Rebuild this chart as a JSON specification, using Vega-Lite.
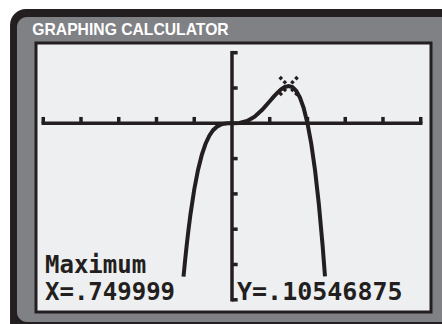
{
  "$schema": "https://vega.github.io/schema/vega-lite/v6.json",
  "width": 395,
  "height": 269,
  "autosize": {"type": "none"},
  "padding": {"left": 36, "top": 43, "right": 11, "bottom": 12},
  "background": "#ffffff",
  "config": {"view": {"stroke": null}},
  "datasets": {
    "curve": [
      {"x": -0.642, "y": -0.4345},
      {"x": -0.62, "y": -0.3861},
      {"x": -0.6, "y": -0.3456},
      {"x": -0.58, "y": -0.3083},
      {"x": -0.55, "y": -0.2579},
      {"x": -0.5, "y": -0.1875},
      {"x": -0.45, "y": -0.1321},
      {"x": -0.4, "y": -0.0896},
      {"x": -0.35, "y": -0.0579},
      {"x": -0.3, "y": -0.0351},
      {"x": -0.25, "y": -0.0195},
      {"x": -0.2, "y": -0.0096},
      {"x": -0.15, "y": -0.0039},
      {"x": -0.1, "y": -0.0011},
      {"x": -0.05, "y": -0.0001},
      {"x": 0, "y": 0},
      {"x": 0.1, "y": 0.0009},
      {"x": 0.2, "y": 0.0064},
      {"x": 0.3, "y": 0.0189},
      {"x": 0.4, "y": 0.0384},
      {"x": 0.5, "y": 0.0625},
      {"x": 0.55, "y": 0.0749},
      {"x": 0.6, "y": 0.0864},
      {"x": 0.65, "y": 0.0961},
      {"x": 0.7, "y": 0.1029},
      {"x": 0.75, "y": 0.1055},
      {"x": 0.8, "y": 0.1024},
      {"x": 0.85, "y": 0.0921},
      {"x": 0.9, "y": 0.0729},
      {"x": 0.95, "y": 0.0429},
      {"x": 1.0, "y": 0},
      {"x": 1.05, "y": -0.0579},
      {"x": 1.1, "y": -0.1331},
      {"x": 1.15, "y": -0.2281},
      {"x": 1.2, "y": -0.3456},
      {"x": 1.232, "y": -0.4338}
    ],
    "xticks": [
      {"x": -2.5}, {"x": -2}, {"x": -1.5}, {"x": -1}, {"x": -0.5},
      {"x": 0.5}, {"x": 1}, {"x": 1.5}, {"x": 2}, {"x": 2.5}
    ],
    "yticks": [
      {"y": 0.2}, {"y": 0.1}, {"y": -0.1}, {"y": -0.2}, {"y": -0.3}, {"y": -0.4}, {"y": -0.5}
    ],
    "maximum": [{"x": 0.75, "y": 0.10546875}],
    "labels": [
      {"label": "GRAPHING CALCULATOR"},
      {"label": "Maximum"},
      {"label": "X=.749999"},
      {"label": "Y=.10546875"}
    ]
  },
  "layer": [
    {
      "data": {"values": [{}]},
      "mark": {"type": "rect", "color": "#231f20", "cornerRadius": 16},
      "encoding": {
        "x": {"datum": -2.94, "type": "quantitative", "scale": {"domain": [-2.596, 2.636], "nice": false, "zero": false}, "axis": null},
        "x2": {"datum": 3.02},
        "y": {"datum": 0.3238, "type": "quantitative", "scale": {"domain": [-0.5346, 0.2275], "nice": false, "zero": false}, "axis": null},
        "y2": {"datum": -0.614}
      }
    },
    {
      "data": {"values": [{}]},
      "mark": {"type": "rect", "color": "#808185", "cornerRadius": 10},
      "encoding": {
        "x": {"datum": -2.848, "type": "quantitative", "scale": {"domain": [-2.596, 2.636], "nice": false, "zero": false}, "axis": null},
        "x2": {"datum": 3.02},
        "y": {"datum": 0.3011, "type": "quantitative", "scale": {"domain": [-0.5346, 0.2275], "nice": false, "zero": false}, "axis": null},
        "y2": {"datum": -0.5629}
      }
    },
    {
      "data": {"values": [{}]},
      "mark": {"type": "rect", "fill": "#eeeff1", "stroke": "#231f20", "strokeWidth": 3},
      "encoding": {
        "x": {"datum": -2.596, "type": "quantitative", "scale": {"domain": [-2.596, 2.636], "nice": false, "zero": false}, "axis": null},
        "x2": {"datum": 2.636},
        "y": {"datum": 0.2275, "type": "quantitative", "scale": {"domain": [-0.5346, 0.2275], "nice": false, "zero": false}, "axis": null},
        "y2": {"datum": -0.5346}
      }
    },
    {
      "data": {"name": "labels"},
      "transform": [{"filter": "datum.label === 'GRAPHING CALCULATOR'"}],
      "mark": {"type": "text", "align": "left", "baseline": "alphabetic", "font": "Liberation Sans", "fontWeight": "bold", "fontSize": 15.7, "color": "#ffffff"},
      "encoding": {
        "x": {"datum": -2.645, "type": "quantitative", "scale": {"domain": [-2.596, 2.636], "nice": false, "zero": false}, "axis": null},
        "y": {"datum": 0.251, "type": "quantitative", "scale": {"domain": [-0.5346, 0.2275], "nice": false, "zero": false}, "axis": null},
        "text": {"field": "label"}
      }
    },
    {
      "data": {"values": [{}]},
      "mark": {"type": "rule", "color": "#231f20", "strokeWidth": 3.5, "strokeCap": "square"},
      "encoding": {
        "x": {"datum": -2.5, "type": "quantitative", "scale": {"domain": [-2.596, 2.636], "nice": false, "zero": false}, "axis": null},
        "x2": {"datum": 2.5},
        "y": {"datum": 0, "type": "quantitative", "scale": {"domain": [-0.5346, 0.2275], "nice": false, "zero": false}, "axis": null}
      }
    },
    {
      "data": {"values": [{}]},
      "mark": {"type": "rule", "color": "#231f20", "strokeWidth": 3.5, "strokeCap": "square"},
      "encoding": {
        "x": {"datum": 0, "type": "quantitative", "scale": {"domain": [-2.596, 2.636], "nice": false, "zero": false}, "axis": null},
        "y": {"datum": -0.5, "type": "quantitative", "scale": {"domain": [-0.5346, 0.2275], "nice": false, "zero": false}, "axis": null},
        "y2": {"datum": 0.2}
      }
    },
    {
      "data": {"name": "xticks"},
      "mark": {"type": "rule", "color": "#231f20", "strokeWidth": 3.5},
      "encoding": {
        "x": {"field": "x", "type": "quantitative", "scale": {"domain": [-2.596, 2.636], "nice": false, "zero": false}, "axis": null},
        "y": {"datum": 0, "type": "quantitative", "scale": {"domain": [-0.5346, 0.2275], "nice": false, "zero": false}, "axis": null},
        "y2": {"datum": 0.018}
      }
    },
    {
      "data": {"name": "yticks"},
      "mark": {"type": "rule", "color": "#231f20", "strokeWidth": 3.5},
      "encoding": {
        "x": {"datum": 0, "type": "quantitative", "scale": {"domain": [-2.596, 2.636], "nice": false, "zero": false}, "axis": null},
        "x2": {"datum": 0.075},
        "y": {"field": "y", "type": "quantitative", "scale": {"domain": [-0.5346, 0.2275], "nice": false, "zero": false}, "axis": null}
      }
    },
    {
      "data": {"name": "curve"},
      "mark": {"type": "line", "color": "#231f20", "strokeWidth": 4, "strokeCap": "butt"},
      "encoding": {
        "x": {"field": "x", "type": "quantitative", "scale": {"domain": [-2.596, 2.636], "nice": false, "zero": false}, "axis": null},
        "y": {"field": "y", "type": "quantitative", "scale": {"domain": [-0.5346, 0.2275], "nice": false, "zero": false}, "axis": null}
      }
    },
    {
      "data": {"name": "maximum"},
      "mark": {"type": "point", "shape": "M-1,-1L-0.75,-0.75M-0.55,-0.55L-0.3,-0.3M1,-1L0.75,-0.75M0.55,-0.55L0.3,-0.3M-1,1L-0.75,0.75M-0.55,0.55L-0.3,0.3M1,1L0.75,0.75M0.55,0.55L0.3,0.3", "filled": false, "size": 324, "strokeWidth": 3.5, "color": "#231f20", "opacity": 1, "strokeCap": "butt"},
      "encoding": {
        "x": {"field": "x", "type": "quantitative", "scale": {"domain": [-2.596, 2.636], "nice": false, "zero": false}, "axis": null},
        "y": {"field": "y", "type": "quantitative", "scale": {"domain": [-0.5346, 0.2275], "nice": false, "zero": false}, "axis": null}
      }
    },
    {
      "data": {"name": "labels"},
      "transform": [{"filter": "datum.label === 'Maximum'"}],
      "mark": {"type": "text", "align": "left", "baseline": "alphabetic", "font": "DejaVu Sans Mono", "fontWeight": "bold", "fontSize": 24, "color": "#231f20"},
      "encoding": {
        "x": {"datum": -2.477, "type": "quantitative", "scale": {"domain": [-2.596, 2.636], "nice": false, "zero": false}, "axis": null},
        "y": {"datum": -0.4255, "type": "quantitative", "scale": {"domain": [-0.5346, 0.2275], "nice": false, "zero": false}, "axis": null},
        "text": {"field": "label"}
      }
    },
    {
      "data": {"name": "labels"},
      "transform": [{"filter": "datum.label === 'X=.749999'"}],
      "mark": {"type": "text", "align": "left", "baseline": "alphabetic", "font": "DejaVu Sans Mono", "fontWeight": "bold", "fontSize": 24, "color": "#231f20"},
      "encoding": {
        "x": {"datum": -2.477, "type": "quantitative", "scale": {"domain": [-2.596, 2.636], "nice": false, "zero": false}, "axis": null},
        "y": {"datum": -0.5006, "type": "quantitative", "scale": {"domain": [-0.5346, 0.2275], "nice": false, "zero": false}, "axis": null},
        "text": {"field": "label"}
      }
    },
    {
      "data": {"name": "labels"},
      "transform": [{"filter": "datum.label === 'Y=.10546875'"}],
      "mark": {"type": "text", "align": "left", "baseline": "alphabetic", "font": "DejaVu Sans Mono", "fontWeight": "bold", "fontSize": 25, "color": "#231f20"},
      "encoding": {
        "x": {"datum": 0.0662, "type": "quantitative", "scale": {"domain": [-2.596, 2.636], "nice": false, "zero": false}, "axis": null},
        "y": {"datum": -0.5006, "type": "quantitative", "scale": {"domain": [-0.5346, 0.2275], "nice": false, "zero": false}, "axis": null},
        "text": {"field": "label"}
      }
    }
  ]
}
